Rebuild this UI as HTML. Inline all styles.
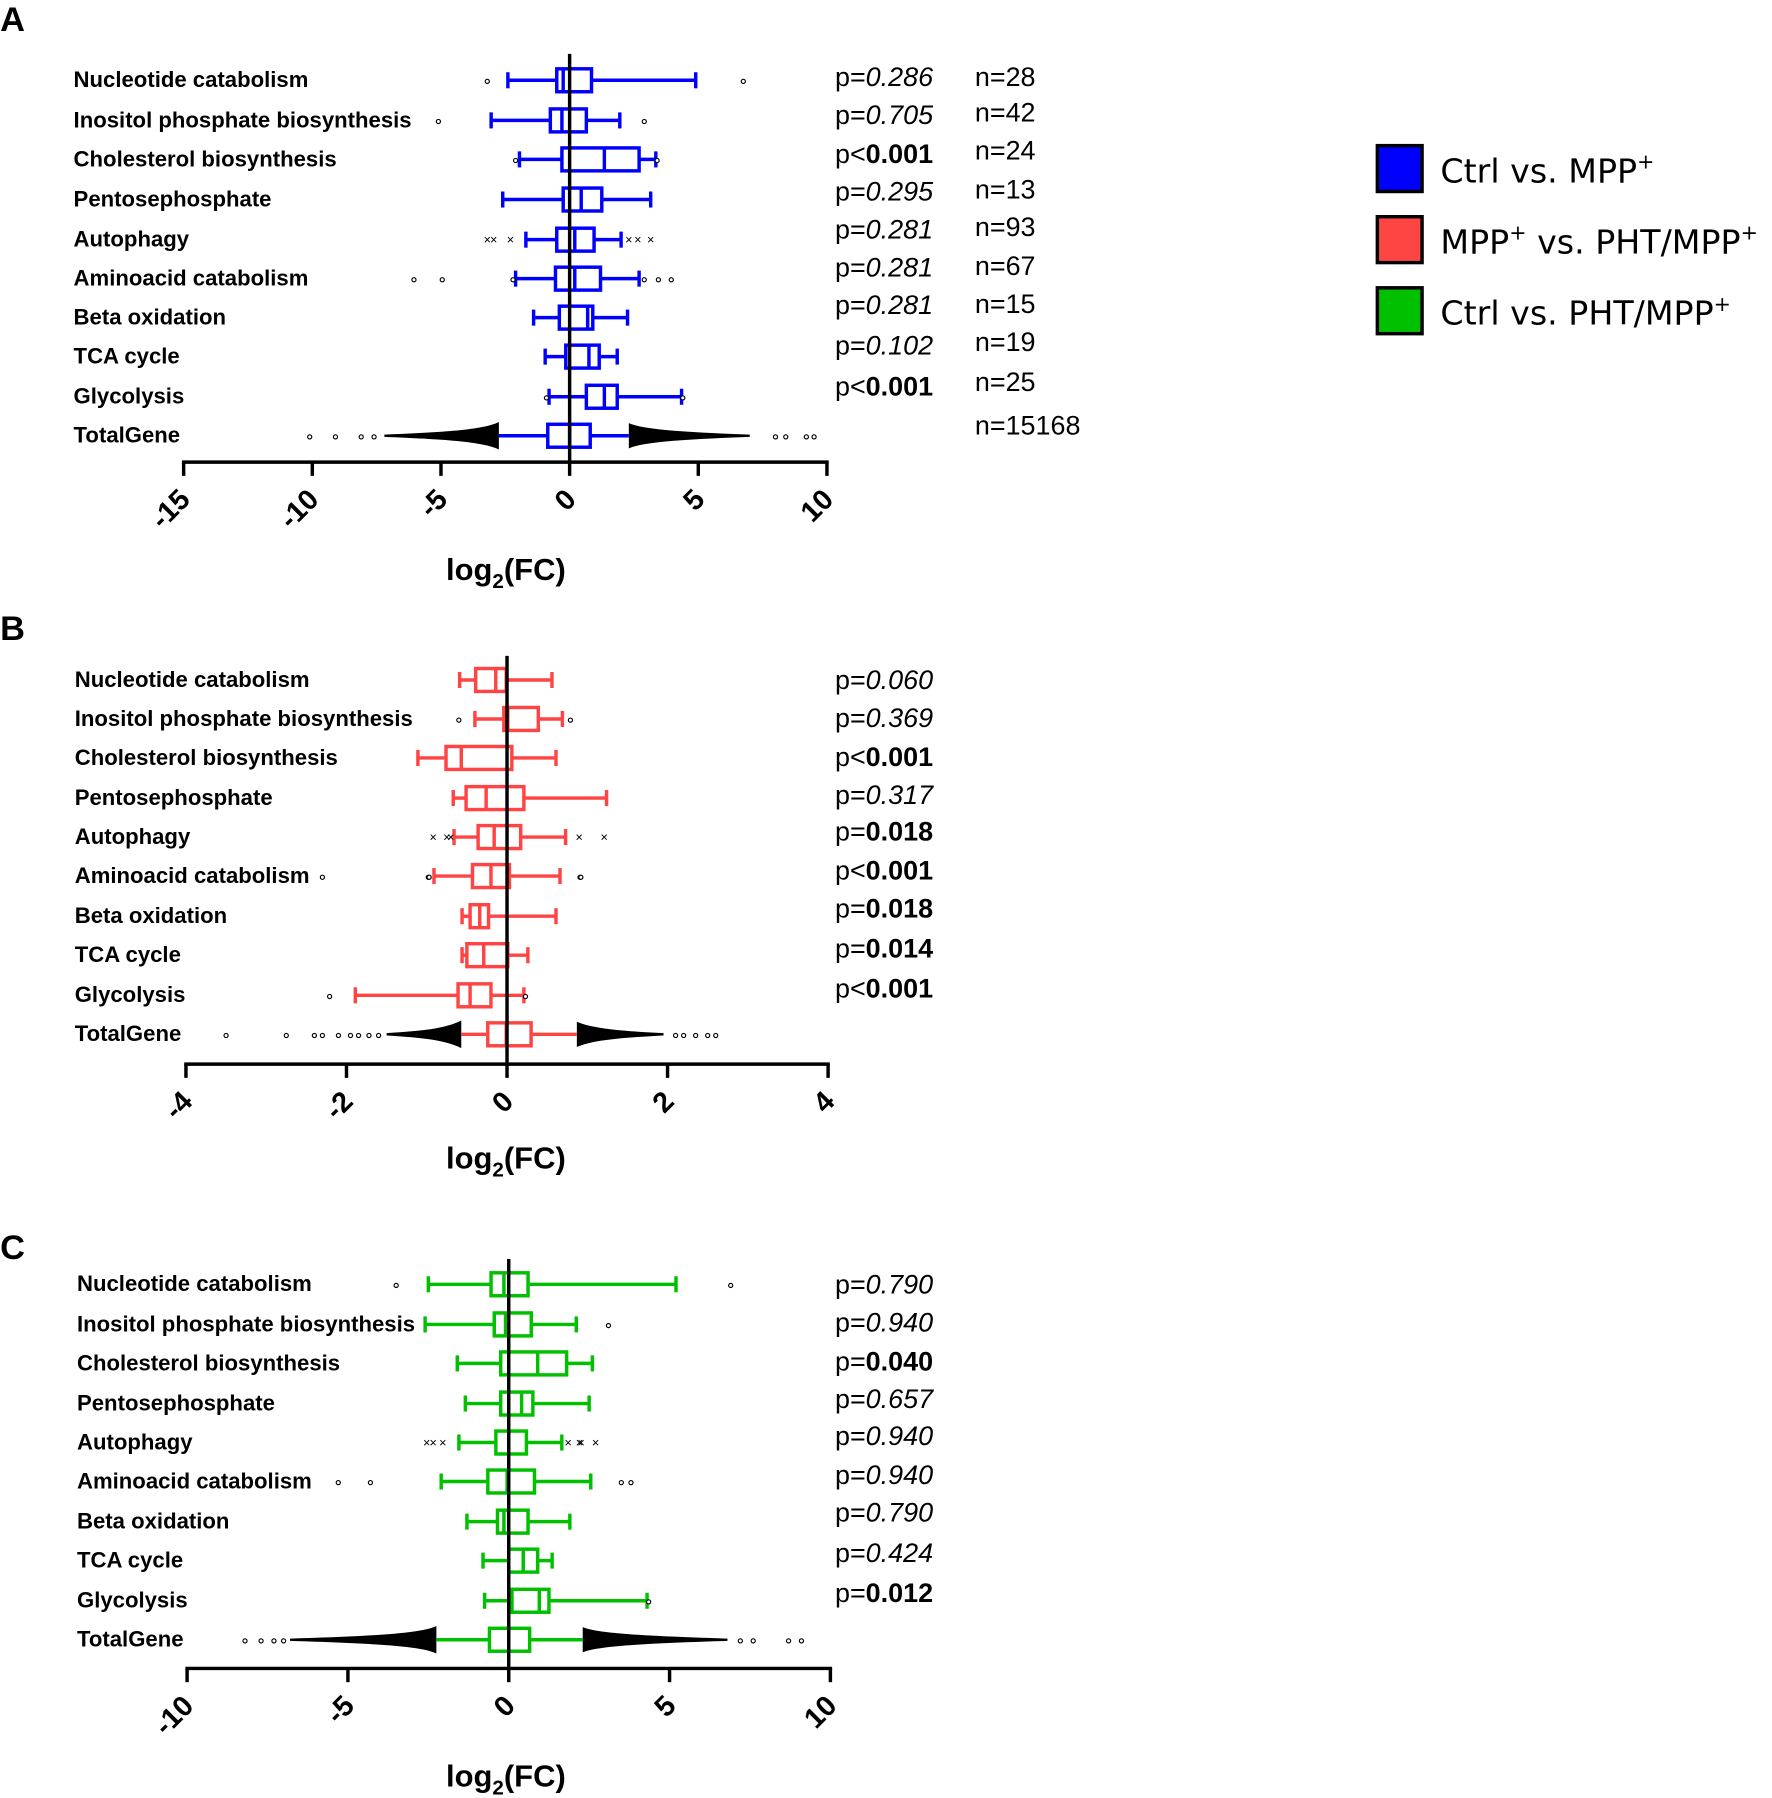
<!DOCTYPE html>
<html><head><meta charset="utf-8"><style>
html,body{margin:0;padding:0;background:#fff;}
svg{display:block;}
text{font-family:"Liberation Sans",sans-serif;}
</style></head><body>
<svg id="fig" width="1772" height="1798" viewBox="0 0 1545 1568" xmlns="http://www.w3.org/2000/svg"></svg>
<script>
// ---------- data ----------
const categories = ["Nucleotide catabolism","Inositol phosphate biosynthesis","Cholesterol biosynthesis","Pentosephosphate","Autophagy","Aminoacid catabolism","Beta oxidation","TCA cycle","Glycolysis","TotalGene"];
const nCounts = ["n=28","n=42","n=24","n=13","n=93","n=67","n=15","n=19","n=25","n=15168"];

// Panel A: [whiskerLow, q1, median, q3, whiskerHigh]
const boxesA = [[-2.4,-0.5,-0.25,0.85,4.9],[-3.05,-0.75,-0.3,0.65,1.95],[-1.95,-0.3,1.35,2.7,3.35],[-2.6,-0.25,0.45,1.25,3.15],[-1.7,-0.5,0.2,0.95,2.0],[-2.1,-0.55,0.2,1.2,2.7],[-1.4,-0.4,0.7,0.9,2.25],[-0.95,-0.15,0.75,1.15,1.85],[-0.8,0.65,1.35,1.85,4.35],[-2.75,-0.85,0,0.8,2.3]];
const outliersA = [[-3.2,6.75],[-5.1,2.9],[-2.1,3.4],[],[-3.2,-2.95,-2.3,2.3,2.65,3.15],[-6.05,-4.95,-2.2,2.9,3.45,3.95],[],[],[-0.9,4.4],[-10.1,-9.1,-8.1,-7.6,8.0,8.4,9.2,9.5]];
const denseA = [-7.2, 7.0];
const pA = [["=","0.286"],["=","0.705"],["<","0.001"],["=","0.295"],["=","0.281"],["=","0.281"],["=","0.281"],["=","0.102"],["<","0.001"]];
const sigA = [false,false,true,false,false,false,false,false,true];
const ticksA = [-15,-10,-5,0,5,10];

// Panel B
const boxesB = [[-0.59,-0.39,-0.14,-0.01,0.56],[-0.4,-0.04,0.01,0.39,0.69],[-1.11,-0.76,-0.57,0.06,0.61],[-0.67,-0.51,-0.26,0.21,1.24],[-0.66,-0.36,-0.16,0.17,0.73],[-0.91,-0.43,-0.2,0.03,0.66],[-0.56,-0.46,-0.34,-0.23,0.61],[-0.56,-0.5,-0.29,0.01,0.26],[-1.89,-0.61,-0.46,-0.2,0.21],[-0.57,-0.24,-0.01,0.3,0.87]];
const outliersB = [[],[-0.6,0.79],[],[],[-0.92,-0.75,-0.7,0.9,1.21],[-2.3,-0.98,-0.97,0.91,0.92],[],[],[-2.21,0.23],[-3.5,-2.75,-2.4,-2.3,-2.1,-1.95,-1.85,-1.72,-1.6,2.1,2.2,2.35,2.5,2.6]];
const denseB = [-1.5, 1.95];
const pB = [["=","0.060"],["=","0.369"],["<","0.001"],["=","0.317"],["=","0.018"],["<","0.001"],["=","0.018"],["=","0.014"],["<","0.001"]];
const sigB = [false,false,true,false,true,true,true,true,true];
const ticksB = [-4,-2,0,2,4];

// Panel C
const boxesC = [[-2.5,-0.55,-0.15,0.6,5.2],[-2.6,-0.45,-0.1,0.7,2.1],[-1.6,-0.25,0.9,1.8,2.6],[-1.35,-0.25,0.4,0.75,2.5],[-1.55,-0.4,0,0.55,1.65],[-2.1,-0.65,-0.05,0.8,2.55],[-1.3,-0.35,-0.15,0.6,1.9],[-0.8,0,0.45,0.9,1.35],[-0.75,0.1,0.95,1.25,4.3],[-2.25,-0.6,0,0.65,2.3]];
const outliersC = [[-3.5,6.9],[3.1],[],[],[-2.55,-2.35,-2.05,1.85,2.2,2.25,2.7],[-5.3,-4.3,3.5,3.8],[],[],[4.35],[-8.2,-7.7,-7.3,-7.0,7.2,7.6,8.7,9.1]];
const denseC = [-6.8, 6.8];
const pC = [["=","0.790"],["=","0.940"],["=","0.040"],["=","0.657"],["=","0.940"],["=","0.940"],["=","0.790"],["=","0.424"],["=","0.012"]];
const sigC = [false,false,true,false,false,false,false,false,true];
const ticksC = [-10,-5,0,5,10];

// ---------- drawing ----------
const NS="http://www.w3.org/2000/svg";
const svg=document.getElementById('fig');
function el(tag,attrs,parent){const e=document.createElementNS(NS,tag);for(const k in attrs)e.setAttribute(k,attrs[k]);(parent||svg).appendChild(e);return e;}

function panel(cfg){
  const g=el('g',{});
  
  
  const sx=v=>cfg.x0+(v-cfg.min)*(cfg.x1-cfg.x0)/(cfg.max-cfg.min);
  const t=el('text',{x:cfg.lx,y:cfg.ly,'font-size':30,'font-weight':'bold'},g);t.textContent=cfg.letter;
  
  cfg.boxes.forEach((b,i)=>{
    const y=cfg.rowY[i];
    const lab=el('text',{x:cfg.labX,y:y+6,'font-size':19.3,'font-weight':'bold'},g);lab.textContent=categories[i];
    
    const bg=el('g',{},g);
    
    const last=i===cfg.boxes.length-1;
    const c=cfg.color;
    if(last){
      const wl=sx(b[0]),wh=sx(b[4]),dl=sx(cfg.dense[0]),dh=sx(cfg.dense[1]);
      el('path',{d:`M${wl},${y-12} C${wl-14},${y-5} ${(wl+dl)/2},${y-3} ${dl},${y-1} L${dl},${y+1} C${(wl+dl)/2},${y+3} ${wl-14},${y+5} ${wl},${y+12} Z`,fill:'#000'},bg);
      el('path',{d:`M${wh},${y-11} C${wh+14},${y-5} ${(wh+dh)/2},${y-3} ${dh},${y-1} L${dh},${y+1} C${(wh+dh)/2},${y+3} ${wh+14},${y+5} ${wh},${y+11} Z`,fill:'#000'},bg);
    }
    el('line',{x1:sx(b[0]),x2:sx(b[1]),y1:y,y2:y,stroke:c,'stroke-width':3},bg);
    el('line',{x1:sx(b[3]),x2:sx(b[4]),y1:y,y2:y,stroke:c,'stroke-width':3},bg);
    if(!last){
      el('line',{x1:sx(b[0]),x2:sx(b[0]),y1:y-7,y2:y+7,stroke:c,'stroke-width':3},bg);
      el('line',{x1:sx(b[4]),x2:sx(b[4]),y1:y-7,y2:y+7,stroke:c,'stroke-width':3},bg);
    }
    el('rect',{x:sx(b[1]),y:y-10,width:sx(b[3])-sx(b[1]),height:20,fill:'none',stroke:c,'stroke-width':3},bg);
    el('line',{x1:sx(b[2]),x2:sx(b[2]),y1:y-10,y2:y+10,stroke:c,'stroke-width':3},bg);
    cfg.outliers[i].forEach(o=>{
      const ox=sx(o);
      let m;
      if(i===4) { m=el('text',{x:ox,y:y+4,'font-size':11,'text-anchor':'middle'},bg); m.textContent='×'; }
      else m=el('circle',{cx:ox,cy:y+1,r:1.8,fill:'#fff',stroke:'#000','stroke-width':1},bg);
      
    });
  });
  el('line',{x1:sx(0),x2:sx(0),y1:cfg.vTop,y2:cfg.axY,stroke:'#000','stroke-width':3},g);
  const ax=el('line',{x1:cfg.x0-1.5,x2:cfg.x1+1.5,y1:cfg.axY,y2:cfg.axY,stroke:'#000','stroke-width':3},g);
  
  cfg.ticks.forEach(tv=>{
    const tx=sx(tv);
    el('line',{x1:tx,x2:tx,y1:cfg.axY,y2:cfg.axY+12,stroke:'#000','stroke-width':3},g);
    const lx=tx+7,ly=cfg.axY+34;
    const tl=el('text',{x:lx,y:ly,'font-size':25,'font-weight':'bold','text-anchor':'end',transform:`rotate(-45 ${lx} ${ly})`},g);
    tl.textContent=String(tv);
    
  });
  const at=el('text',{x:441,y:cfg.titleY,'font-size':27,'font-weight':'bold','text-anchor':'middle'},g);
  at.innerHTML='log<tspan font-size="18" dy="7">2</tspan><tspan dy="-7">(FC)</tspan>';
  
  cfg.p.forEach((p,i)=>{
    const pt=el('text',{x:728,y:cfg.pY[i]+8,'font-size':23.5},g);
    pt.innerHTML='p'+(p[0]==='<'?'&lt;':'=')+(cfg.sig[i]?'<tspan font-weight="bold">'+p[1]+'</tspan>':'<tspan font-style="italic">'+p[1]+'</tspan>');
    
  });
  if(cfg.n){
    cfg.n.forEach((n,i)=>{
      const nt=el('text',{x:850,y:cfg.nY[i]+8,'font-size':23.5},g);nt.textContent=n;
      
    });
  }
}
panel({letter:'A',lx:0,ly:27,labX:64,x0:160,x1:721,min:-15,max:10,axY:403,vTop:47,titleY:506,rowY:[70,105,139,174,209,243,277,311,346,380],
  boxes:boxesA,outliers:outliersA,dense:denseA,ticks:ticksA,p:pA,sig:sigA,pY:[67,100,134,167,200,233,266,301,337],
  n:nCounts,nY:[67,98,131,165,198,232,265,298,333,371],color:'#0000ff'});
panel({letter:'B',lx:0,ly:558,labX:65,x0:162,x1:722,min:-4,max:4,axY:928,vTop:572,titleY:1019,rowY:[593,627,661,696,730,764,799,833,868,902],
  boxes:boxesB,outliers:outliersB,dense:denseB,ticks:ticksB,p:pB,sig:sigB,pY:[593,626,660,693,725,759,792,827,862],color:'#ff4444'});
panel({letter:'C',lx:0,ly:1098,labX:67,x0:163,x1:724,min:-10,max:10,axY:1455,vTop:1098,titleY:1558,rowY:[1120,1155,1189,1224,1258,1292,1327,1361,1396,1430],
  boxes:boxesC,outliers:outliersC,dense:denseC,ticks:ticksC,p:pC,sig:sigC,pY:[1120,1153,1187,1220,1252,1286,1319,1354,1389],color:'#00c000'});

const lg=el('g',{});

const legColors=['#0000ff','#ff4444','#00c000'];
const legY=[147,209,271];
const legHtml=['Ctrl vs. MPP<tspan dy="-12" font-size="18">+</tspan>','MPP<tspan dy="-12" font-size="18">+</tspan><tspan dy="12"> vs. PHT/MPP</tspan><tspan dy="-12" font-size="18">+</tspan>','Ctrl vs. PHT/MPP<tspan dy="-12" font-size="18">+</tspan>'];
legColors.forEach((c,i)=>{
  const e=el('g',{},lg);
  
  el('rect',{x:1201,y:legY[i]-20,width:39,height:40,fill:c,stroke:'#000','stroke-width':3},e);
  const t=el('text',{x:1256,y:legY[i]+12,'font-size':29,style:'font-family:"DejaVu Sans",sans-serif'},e);
  t.innerHTML=legHtml[i];
});
</script>
</body></html>
